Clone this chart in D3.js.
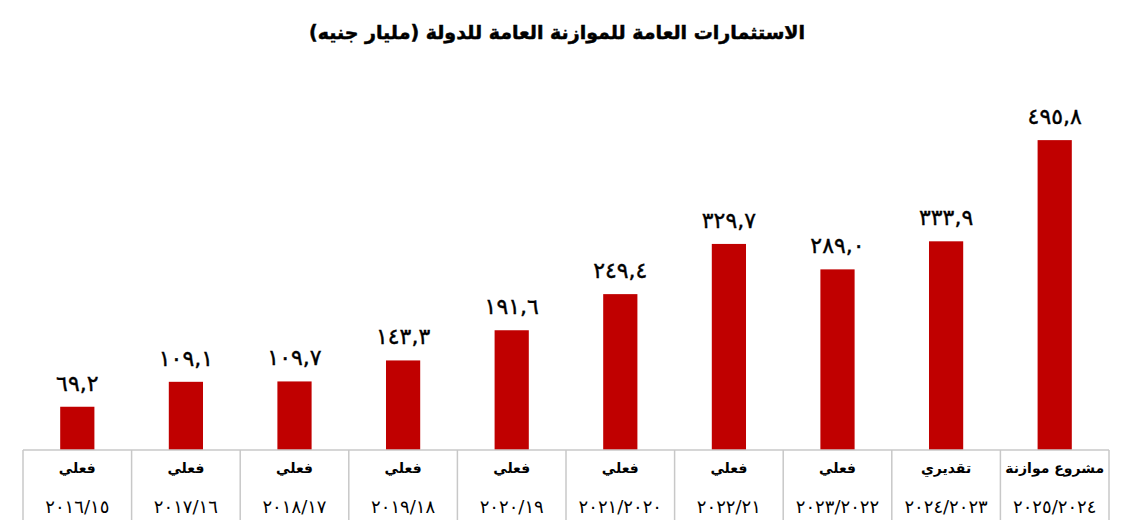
<!DOCTYPE html>
<html>
<head>
<meta charset="utf-8">
<script src="https://cdn.jsdelivr.net/npm/d3@7"></script>
<style>
  body { margin: 0; background: #fff; }
  text { font-family: "DejaVu Sans", sans-serif; }
</style>
</head>
<body>
<div id="root"></div>
<script>
// chart data
const periods = ['٢٠١٦/١٥', '٢٠١٧/١٦', '٢٠١٨/١٧', '٢٠١٩/١٨', '٢٠٢٠/١٩',
                 '٢٠٢١/٢٠٢٠', '٢٠٢٢/٢١', '٢٠٢٣/٢٠٢٢', '٢٠٢٤/٢٠٢٣', '٢٠٢٥/٢٠٢٤']
const types = ['فعلي', 'فعلي', 'فعلي', 'فعلي', 'فعلي',
               'فعلي', 'فعلي', 'فعلي', 'تقديري', 'مشروع موازنة']
const values = [69.2, 109.1, 109.7, 143.3, 191.6, 249.4, 329.7, 289.0, 333.9, 495.8]

const width = 1133
const height = 532
const base = 450

// arabic-indic digits, comma as decimal mark
const arDigits = '٠١٢٣٤٥٦٧٨٩'
const fmt = v => v.toFixed(1).replace('.', ',').replace(/[0-9]/g, c => arDigits[+c])

const svg = d3.select('#root').append('svg')
    .attr('width', width)
    .attr('height', height)

const x = d3.scaleBand()
    .domain(d3.range(values.length))
    .range([23, 1109])
    .padding(0)

const y = d3.scaleLinear()
    .domain([0, 600])
    .range([base, base - 375])

const barW = x.bandwidth() * 0.315

// title
svg.append('text')
    .attr('x', 557)
    .attr('y', 39)
    .attr('text-anchor', 'middle')
    .style('font-size', '19px')
    .style('font-weight', 'bold')
    .style('stroke', '#000')
    .style('stroke-width', 0.5)
    .text('الاستثمارات العامة للموازنة العامة للدولة (مليار جنيه)')

// bars
svg.selectAll('.bar')
    .data(values)
    .enter().append('rect')
    .attr('class', 'bar')
    .attr('x', (d, i) => x(i) + (x.bandwidth() - barW) / 2)
    .attr('y', d => y(d))
    .attr('width', barW)
    .attr('height', d => base - y(d))
    .style('fill', '#c00000')

// value labels
svg.selectAll('.val')
    .data(values)
    .enter().append('text')
    .attr('class', 'val')
    .attr('x', (d, i) => x(i) + x.bandwidth() / 2)
    .attr('y', d => y(d) - 16)
    .attr('text-anchor', 'middle')
    .attr('direction', 'ltr')
    .style('font-size', '22px')
    .style('stroke', '#000')
    .style('stroke-width', 0.4)
    .text(d => fmt(d))

// category axis as a table
const g = svg.append('g')
g.append('line')
    .attr('x1', x.range()[0]).attr('x2', x.range()[1])
    .attr('y1', base).attr('y2', base)
    .style('stroke', '#c8c8c8')
    .style('stroke-width', 1.5)

const edges = d3.range(values.length).map(i => x(i)).concat([x.range()[1]])
g.selectAll('.sep')
    .data(edges)
    .enter().append('line')
    .attr('x1', d => d).attr('x2', d => d)
    .attr('y1', base).attr('y2', 520)
    .style('stroke', '#c8c8c8')
    .style('stroke-width', 1.5)

g.selectAll('.type')
    .data(types)
    .enter().append('text')
    .attr('x', (d, i) => x(i) + x.bandwidth() / 2)
    .attr('y', 473)
    .attr('text-anchor', 'middle')
    .style('font-size', '14px')
    .style('font-weight', 'bold')
    .text(d => d)

g.selectAll('.period')
    .data(periods)
    .enter().append('text')
    .attr('x', (d, i) => x(i) + x.bandwidth() / 2)
    .attr('y', 513)
    .attr('text-anchor', 'middle')
    .attr('direction', 'ltr')
    .style('font-size', '18px')
    .text(d => d)
</script>
</body>
</html>
